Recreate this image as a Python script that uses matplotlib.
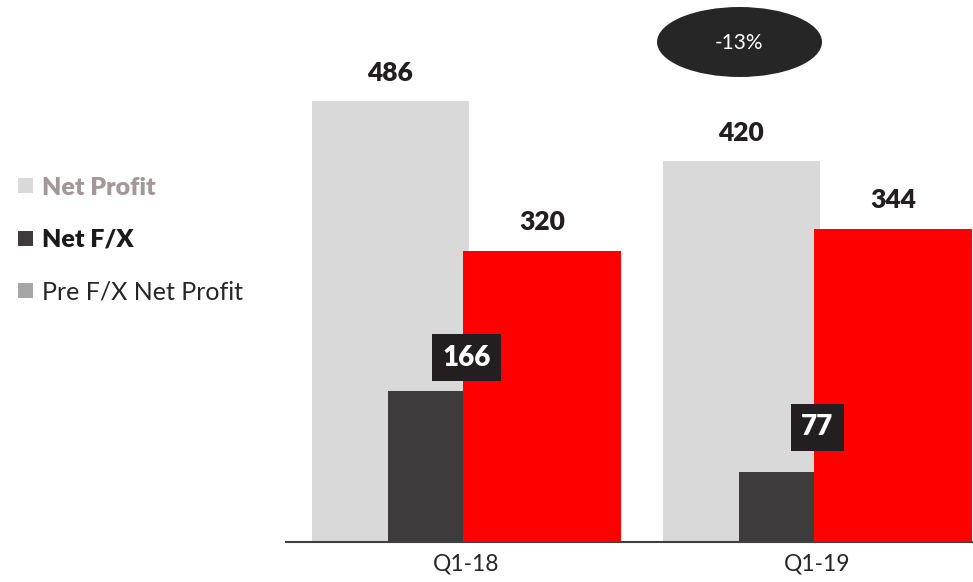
import matplotlib
matplotlib.use("Agg")
import matplotlib.pyplot as plt
from matplotlib.patches import Ellipse, Rectangle
import numpy as np

plt.rcParams['font.family'] = ['Lato', 'DejaVu Sans']

# data
quarters = ["Q1-18", "Q1-19"]
net_profit = [486, 420]
net_fx = [166, 77]
pre_fx_profit = [320, 344]
change_label = "-13%"

legend_names = ["Net Profit", "Net F/X", "Pre F/X Net Profit"]

# colours
c_np = "#d9d9d9"
c_fx = "#3d3b3c"
c_pre = "#ff0000"
c_box = "#231f20"

fig = plt.figure(figsize=(9.73, 5.82), dpi=100)
ax = fig.add_axes([286 / 973, 40.5 / 582, 687 / 973, 541.5 / 582])

x = np.arange(len(quarters))
# offsets/widths in group units (351 px per group)
ax.bar(x - 0.2165, net_profit, width=0.447, color=c_np, zorder=1)
ax.bar(x - 0.117, net_fx, width=0.214, color=c_fx, zorder=2)
ax.bar(x + 0.215, pre_fx_profit, width=0.45, color=c_pre, zorder=3)

ax.set_xlim(-0.514, 1.443)
ax.set_ylim(0, 597)

for i in range(len(quarters)):
    ax.annotate(str(net_profit[i]), (x[i] - 0.2165, net_profit[i]), xytext=(0, 20),
                textcoords="offset points", ha="center", va="center",
                fontsize=19, fontweight="heavy", color="#231f20")
    ax.annotate(str(pre_fx_profit[i]), (x[i] + 0.215, pre_fx_profit[i]), xytext=(0, 21),
                textcoords="offset points", ha="center", va="center",
                fontsize=19, fontweight="heavy", color="#231f20")

# boxed Net F/X values, centered on group
box_off = [24, 32]
for i in range(len(quarters)):
    ax.annotate(str(net_fx[i]), (x[i], net_fx[i]), xytext=(0, box_off[i]),
                textcoords="offset points", ha="center", va="center",
                fontsize=20, fontweight="heavy", color="white", zorder=5,
                bbox=dict(boxstyle="square,pad=0.38", fc=c_box, ec="none"))

for s in ["top", "right", "left"]:
    ax.spines[s].set_visible(False)
ax.spines["bottom"].set_color("#404040")
ax.spines["bottom"].set_linewidth(1.5)
ax.set_yticks([])
ax.set_xticks(x)
ax.set_xticklabels(quarters, fontsize=16.5, color="#262626")
ax.tick_params(axis="x", length=0, pad=9)

# change bubble
ell = Ellipse((739.5 / 973, 1 - 42 / 582), 165 / 973, 70 / 582,
              transform=fig.transFigure, fc="#262626", ec="none")
fig.patches.append(ell)
fig.text(739.5 / 973, 1 - 43 / 582, change_label, ha="center", va="center",
         fontsize=15, color="white")

# legend
leg_colors = [c_np, c_fx, "#a6a6a6"]
leg_text_colors = ["#a39797", "#1a1a1a", "#262626"]
leg_weights = ["heavy", "heavy", "normal"]
for i, name in enumerate(legend_names):
    yc = 186 + 52 * i
    fig.patches.append(Rectangle((18 / 973, 1 - (yc + 7.5) / 582), 15 / 973, 15 / 582,
                                 transform=fig.transFigure, fc=leg_colors[i], ec="none"))
    fig.text(42 / 973, 1 - yc / 582, name, ha="left", va="center_baseline",
             fontsize=18, fontweight=leg_weights[i], color=leg_text_colors[i])

fig.savefig("out.png", dpi=100)
